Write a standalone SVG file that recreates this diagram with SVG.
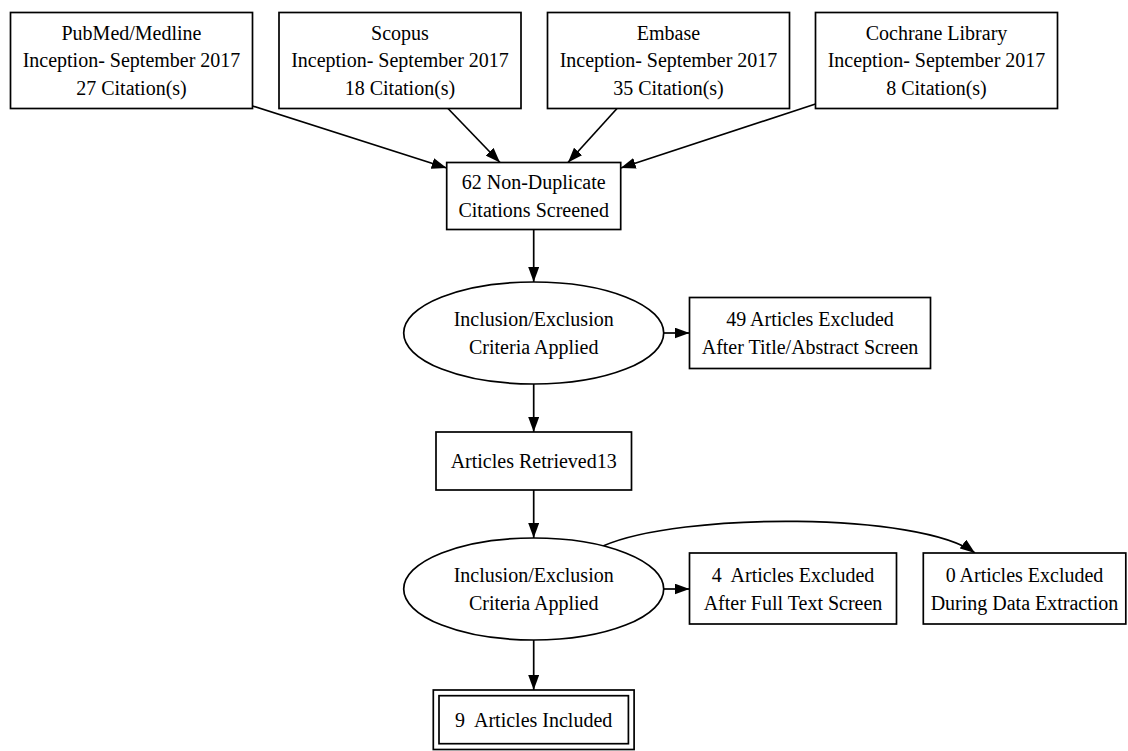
<svg xmlns="http://www.w3.org/2000/svg" width="1128" height="751" viewBox="0 0 1128 751">
<style>
.n{fill:#fff;stroke:#000;stroke-width:1.7}
.t{font-family:"Liberation Serif","Times New Roman",serif;font-size:20px;fill:#000;text-anchor:middle;white-space:pre}
.e{fill:none;stroke:#000;stroke-width:1.7}
</style>
<defs>
<marker id="ah" markerUnits="userSpaceOnUse" markerWidth="15" markerHeight="11" refX="15" refY="5.5" orient="auto">
<path d="M0,0 L15,5.5 L0,11 Z" fill="#000"/>
</marker>
</defs>
<rect width="1128" height="751" fill="#fff"/>
<g id="connectors">
<path class="e" d="M252.5,106 L446.7,168" marker-end="url(#ah)"/>
<path class="e" d="M448,108.5 L500,162.5" marker-end="url(#ah)"/>
<path class="e" d="M617,108.5 L568,162.5" marker-end="url(#ah)"/>
<path class="e" d="M815.5,104 L620.7,168" marker-end="url(#ah)"/>
<path class="e" d="M533.7,229.5 L533.7,282" marker-end="url(#ah)"/>
<path class="e" d="M663.7,333 L689.5,333" marker-end="url(#ah)"/>
<path class="e" d="M533.7,384 L533.7,432" marker-end="url(#ah)"/>
<path class="e" d="M533.7,490 L533.7,538" marker-end="url(#ah)"/>
<path class="e" d="M663.7,589 L689.5,589" marker-end="url(#ah)"/>
<path class="e" d="M603,546 C680,512 920,512 975,553" marker-end="url(#ah)"/>
<path class="e" d="M533.7,640 L533.7,690" marker-end="url(#ah)"/>
</g>
<g id="pubmed">
<rect class="n" x="10.5" y="12.5" width="242" height="96"/>
<text class="t" x="131.5" y="39.5">PubMed/Medline</text>
<text class="t" x="131.5" y="67">Inception- September 2017</text>
<text class="t" x="131.5" y="94.5">27 Citation(s)</text>
</g>
<g id="scopus">
<rect class="n" x="279" y="12.5" width="242" height="96"/>
<text class="t" x="400" y="39.5">Scopus</text>
<text class="t" x="400" y="67">Inception- September 2017</text>
<text class="t" x="400" y="94.5">18 Citation(s)</text>
</g>
<g id="embase">
<rect class="n" x="547.5" y="12.5" width="242" height="96"/>
<text class="t" x="668.5" y="39.5">Embase</text>
<text class="t" x="668.5" y="67">Inception- September 2017</text>
<text class="t" x="668.5" y="94.5">35 Citation(s)</text>
</g>
<g id="cochrane">
<rect class="n" x="815.5" y="12.5" width="242" height="96"/>
<text class="t" x="936.5" y="39.5">Cochrane Library</text>
<text class="t" x="936.5" y="67">Inception- September 2017</text>
<text class="t" x="936.5" y="94.5">8 Citation(s)</text>
</g>
<g id="screened">
<rect class="n" x="446.7" y="162.5" width="174" height="67"/>
<text class="t" x="533.7" y="189">62 Non-Duplicate</text>
<text class="t" x="533.7" y="216.5">Citations Screened</text>
</g>
<g id="criteria1">
<ellipse class="n" cx="533.7" cy="333" rx="130" ry="51"/>
<text class="t" x="533.7" y="326">Inclusion/Exclusion</text>
<text class="t" x="533.7" y="353.5">Criteria Applied</text>
</g>
<g id="excluded49">
<rect class="n" x="689.5" y="297.5" width="241" height="71"/>
<text class="t" x="810" y="326">49 Articles Excluded</text>
<text class="t" x="810" y="353.5">After Title/Abstract Screen</text>
</g>
<g id="retrieved">
<rect class="n" x="436" y="432" width="195.5" height="58"/>
<text class="t" x="533.7" y="468">Articles Retrieved13</text>
</g>
<g id="criteria2">
<ellipse class="n" cx="533.7" cy="589" rx="130" ry="51"/>
<text class="t" x="533.7" y="582">Inclusion/Exclusion</text>
<text class="t" x="533.7" y="609.5">Criteria Applied</text>
</g>
<g id="excluded4">
<rect class="n" x="689.5" y="553" width="207" height="71"/>
<text class="t" x="793" y="582">4  Articles Excluded</text>
<text class="t" x="793" y="609.5">After Full Text Screen</text>
</g>
<g id="excluded0">
<rect class="n" x="923.3" y="553" width="202.5" height="71"/>
<text class="t" x="1024.5" y="582">0 Articles Excluded</text>
<text class="t" x="1024.5" y="609.5">During Data Extraction</text>
</g>
<g id="included">
<rect class="n" x="433.3" y="690" width="200.8" height="59.5"/>
<rect class="n" x="439" y="695.7" width="189.4" height="48"/>
<text class="t" x="533.7" y="727">9  Articles Included</text>
</g>
</svg>
